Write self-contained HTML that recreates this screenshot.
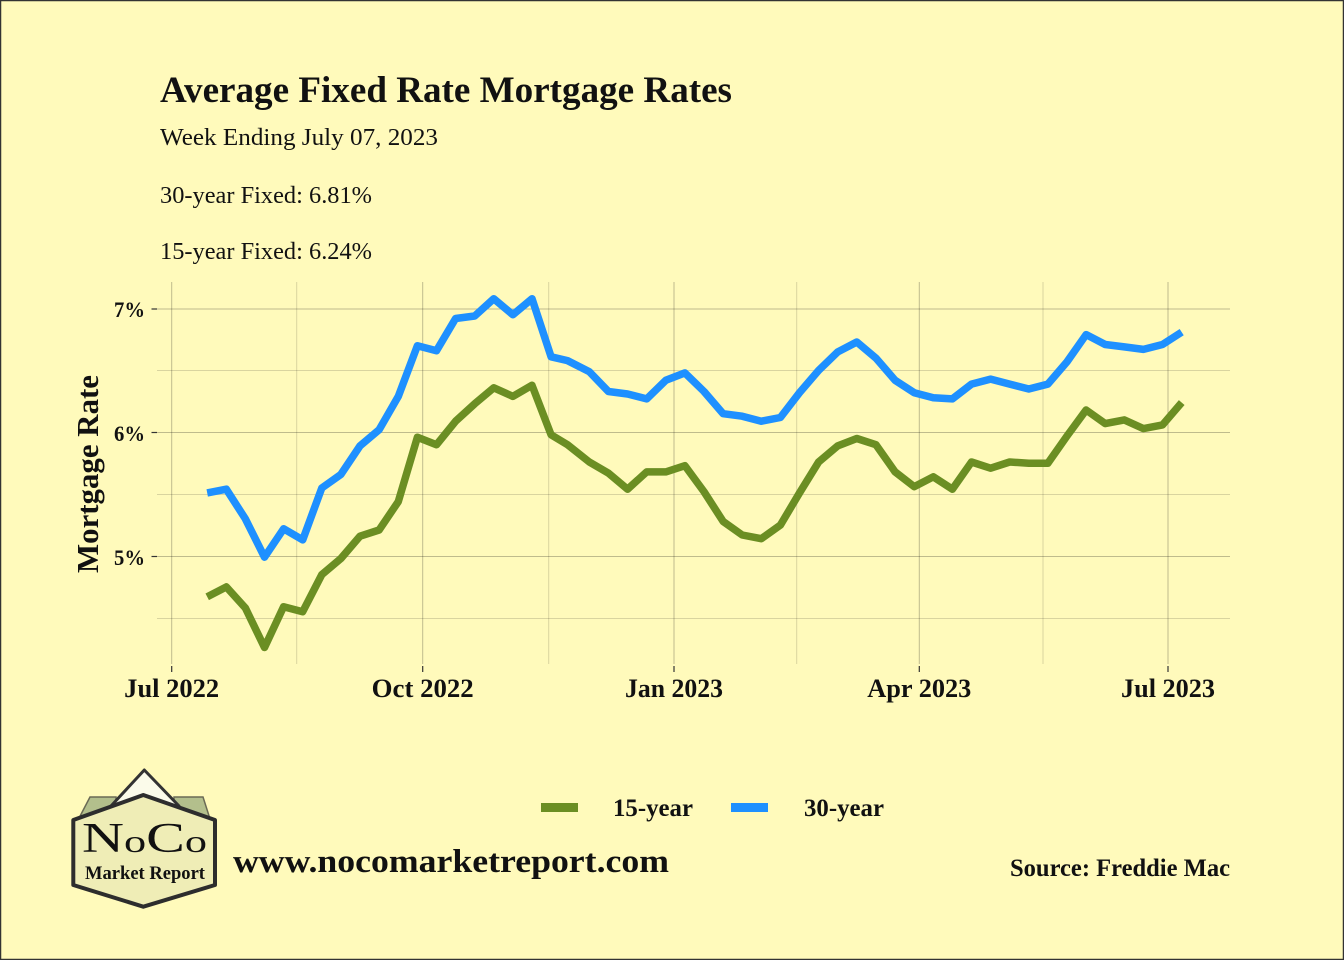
<!DOCTYPE html>
<html>
<head>
<meta charset="utf-8">
<style>
  html,body{margin:0;padding:0;background:#FFFABB;}
  svg{display:block;}
  text{font-family:"Liberation Serif",serif;fill:#111;}
</style>
</head>
<body>
<svg width="1344" height="960" viewBox="0 0 1344 960" xmlns="http://www.w3.org/2000/svg">
  <rect x="0" y="0" width="1344" height="960" fill="#FFFABB"/>
  <rect x="0.5" y="0.5" width="1343" height="959" fill="none" stroke="#333" stroke-width="1.5"/>

  <!-- Titles -->
  <text x="160" y="102" font-size="37" font-weight="bold" textLength="572" lengthAdjust="spacingAndGlyphs">Average Fixed Rate Mortgage Rates</text>
  <text x="160" y="145" font-size="24" textLength="278" lengthAdjust="spacingAndGlyphs">Week Ending July 07, 2023</text>
  <text x="160" y="203" font-size="24" textLength="212" lengthAdjust="spacingAndGlyphs">30-year Fixed: 6.81%</text>
  <text x="160" y="259" font-size="24" textLength="212" lengthAdjust="spacingAndGlyphs">15-year Fixed: 6.24%</text>

  <!-- Grid: minor -->
  <g stroke="rgba(0,0,0,0.15)" stroke-width="1" fill="none">
    <line x1="157" y1="370.5" x2="1230" y2="370.5"/>
    <line x1="157" y1="494.5" x2="1230" y2="494.5"/>
    <line x1="157" y1="618.5" x2="1230" y2="618.5"/>
    <line x1="296.7" y1="282" x2="296.7" y2="664"/>
    <line x1="548.7" y1="282" x2="548.7" y2="664"/>
    <line x1="796.7" y1="282" x2="796.7" y2="664"/>
    <line x1="1043" y1="282" x2="1043" y2="664"/>
  </g>
  <!-- Grid: major -->
  <g stroke="rgba(0,0,0,0.25)" stroke-width="1" fill="none">
    <line x1="157" y1="309" x2="1230" y2="309"/>
    <line x1="157" y1="432.5" x2="1230" y2="432.5"/>
    <line x1="157" y1="556.5" x2="1230" y2="556.5"/>
    <line x1="171.7" y1="282" x2="171.7" y2="664"/>
    <line x1="422.7" y1="282" x2="422.7" y2="664"/>
    <line x1="674" y1="282" x2="674" y2="664"/>
    <line x1="919.3" y1="282" x2="919.3" y2="664"/>
    <line x1="1168" y1="282" x2="1168" y2="664"/>
  </g>

  <!-- Axis ticks -->
  <g stroke="#333" stroke-width="1.2">
    <line x1="151.5" y1="309" x2="157" y2="309"/>
    <line x1="151.5" y1="432.5" x2="157" y2="432.5"/>
    <line x1="151.5" y1="556.5" x2="157" y2="556.5"/>
    <line x1="171.7" y1="666" x2="171.7" y2="672"/>
    <line x1="422.7" y1="666" x2="422.7" y2="672"/>
    <line x1="674" y1="666" x2="674" y2="672"/>
    <line x1="919.3" y1="666" x2="919.3" y2="672"/>
    <line x1="1168" y1="666" x2="1168" y2="672"/>
  </g>

  <!-- Y tick labels -->
  <g font-size="22" font-weight="bold" text-anchor="end">
    <text x="145" y="317" textLength="31" lengthAdjust="spacingAndGlyphs">7%</text>
    <text x="145" y="441" textLength="31" lengthAdjust="spacingAndGlyphs">6%</text>
    <text x="145" y="565" textLength="31" lengthAdjust="spacingAndGlyphs">5%</text>
  </g>

  <!-- X tick labels -->
  <g font-size="26" font-weight="bold" text-anchor="middle">
    <text x="171.7" y="697" textLength="95" lengthAdjust="spacingAndGlyphs">Jul 2022</text>
    <text x="422.7" y="697" textLength="102" lengthAdjust="spacingAndGlyphs">Oct 2022</text>
    <text x="674" y="697" textLength="98" lengthAdjust="spacingAndGlyphs">Jan 2023</text>
    <text x="919.3" y="697" textLength="104" lengthAdjust="spacingAndGlyphs">Apr 2023</text>
    <text x="1168" y="697" textLength="94" lengthAdjust="spacingAndGlyphs">Jul 2023</text>
  </g>

  <!-- Y axis title -->
  <text transform="translate(98,474) rotate(-90)" font-size="31" font-weight="bold" text-anchor="middle" textLength="198" lengthAdjust="spacingAndGlyphs">Mortgage Rate</text>

  <!-- Series -->
  <polyline fill="none" stroke="#6B8E23" stroke-width="7.5" stroke-linejoin="round" stroke-linecap="butt"
    points="207.2,596.8 226.3,586.9 245.4,608.0 264.5,647.5 283.6,606.7 302.7,611.7 321.8,574.6 340.9,558.5 360.0,536.2 379.1,530.0 398.3,501.6 417.4,437.2 436.5,444.7 455.6,421.2 474.7,403.8 493.8,387.8 512.9,396.4 532.0,385.3 551.1,434.8 567.5,444.7 589.3,462.0 608.4,473.1 627.6,489.2 646.7,471.9 665.8,471.9 684.9,465.7 704.0,491.7 723.1,521.4 742.2,535.0 761.3,538.7 780.4,525.1 799.5,492.9 818.6,462.0 837.7,445.9 856.8,438.5 875.9,444.7 895.1,471.9 914.2,486.7 933.3,476.8 952.4,489.2 971.5,462.0 990.6,468.2 1009.7,462.0 1028.8,463.2 1047.9,463.2 1067.0,436.0 1086.1,410.0 1105.2,423.6 1124.3,419.9 1143.4,428.6 1162.5,424.9 1181.7,402.6"/>
  <polyline fill="none" stroke="#1E90FF" stroke-width="7.5" stroke-linejoin="round" stroke-linecap="butt"
    points="207.2,492.9 226.3,489.2 245.4,518.9 264.5,557.2 283.6,528.8 302.7,539.9 321.8,488.0 340.9,474.4 360.0,445.9 379.1,429.8 398.3,396.4 417.4,345.7 436.5,350.7 455.6,318.5 474.7,316.0 493.8,298.7 512.9,314.8 532.0,298.7 551.1,356.8 567.5,360.6 589.3,371.7 608.4,391.5 627.6,394.0 646.7,398.9 665.8,380.3 684.9,372.9 704.0,391.5 723.1,413.7 742.2,416.2 761.3,421.2 780.4,417.5 799.5,392.7 818.6,370.4 837.7,351.9 856.8,342.0 875.9,358.1 895.1,380.3 914.2,392.7 933.3,397.7 952.4,398.9 971.5,384.1 990.6,379.1 1009.7,384.1 1028.8,389.0 1047.9,384.1 1067.0,361.8 1086.1,334.6 1105.2,344.5 1124.3,346.9 1143.4,349.4 1162.5,344.5 1181.7,332.1"/>

  <!-- Legend -->
  <rect x="541" y="803" width="37" height="9" fill="#6B8E23"/>
  <text x="613" y="816" font-size="25" font-weight="bold" textLength="80" lengthAdjust="spacingAndGlyphs">15-year</text>
  <rect x="731" y="803" width="37" height="9" fill="#1E90FF"/>
  <text x="804" y="816" font-size="25" font-weight="bold" textLength="80" lengthAdjust="spacingAndGlyphs">30-year</text>

  <!-- Logo -->
  <g>
    <polygon points="90,797 116,797 116,815 77,822" fill="#B3BF8C" stroke="#6a6a55" stroke-width="1.5"/>
    <polygon points="174,797 203,797 211,822 174,815" fill="#B3BF8C" stroke="#6a6a55" stroke-width="1.5"/>
    <polygon points="111,806 144.3,770 179,806" fill="#FBFBEA" stroke="#333" stroke-width="3" stroke-linejoin="round"/>
    <polygon points="143.3,795 215,820 215,885 143.3,906.7 73.3,885 73.3,820" fill="#EFEDB6" stroke="#2d2d2d" stroke-width="4" stroke-linejoin="round"/>
    <text x="82" y="852" textLength="125" lengthAdjust="spacingAndGlyphs" fill="#222"><tspan font-size="42">N</tspan><tspan font-size="32">o</tspan><tspan font-size="42">C</tspan><tspan font-size="32">o</tspan></text>
    <text x="85" y="879" font-family="'Liberation Sans',sans-serif" font-size="19" font-weight="bold" textLength="120" lengthAdjust="spacingAndGlyphs" fill="#222">Market Report</text>
  </g>

  <!-- Footer -->
  <text x="233" y="872" font-size="33" font-weight="bold" textLength="436" lengthAdjust="spacingAndGlyphs">www.nocomarketreport.com</text>
  <text x="1010" y="876" font-size="25" font-weight="bold" textLength="220" lengthAdjust="spacingAndGlyphs">Source: Freddie Mac</text>
</svg>
</body>
</html>
